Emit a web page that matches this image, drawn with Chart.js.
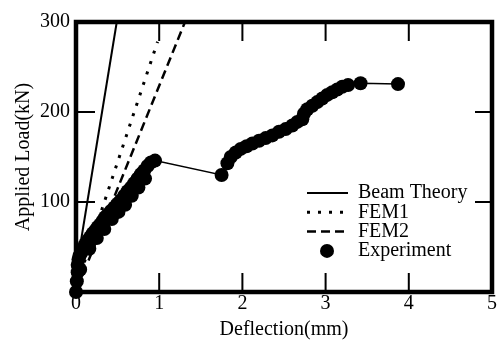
<!DOCTYPE html>
<html lang="en">
<head>
  <meta charset="UTF-8">
  <title>Applied Load vs Deflection</title>
  <script src="https://cdn.jsdelivr.net/npm/chart.js"></script>
  <style>
    body { margin: 0; background: #ffffff; }
    #wrap { width: 499px; height: 345px; }
  </style>
</head>
<body>
  <div id="wrap"><canvas id="chart" width="499" height="345"></canvas></div>

  <script>
    // values (deflection mm, load kN)
    const beamX = [0.03, 0.49];
    const beamY = [40, 300];
    const fem1X = [0.10, 0.98];
    const fem1Y = [33, 278];
    const fem2X = [0.15, 1.31];
    const fem2Y = [35, 300];
    const expX = [0, 0.01, 0.02, 0.02, 0.03, 0.04, 0.06, 0.08, 0.11, 0.14, 0.17, 0.20, 0.23, 0.26,
      0.29, 0.32, 0.35, 0.38, 0.42, 0.46, 0.50, 0.54, 0.58, 0.62, 0.66, 0.70, 0.74, 0.78, 0.82,
      0.86, 0.90, 0.95, 1.75, 1.82, 1.86, 1.92, 1.98, 2.05, 2.12, 2.20, 2.28, 2.36, 2.44, 2.52,
      2.60, 2.66, 2.72, 2.74, 2.78, 2.84, 2.90, 2.96, 3.02, 3.08, 3.14, 3.20, 3.27, 3.42, 3.87];
    const expY = [0, 12, 22, 30, 36, 40, 43, 48, 53, 57, 61, 65, 68, 72,
      75, 79, 83, 86, 90, 94, 98, 102, 107, 112, 116, 121, 126, 131, 135,
      140, 144, 146, 130, 143, 150, 155, 159, 162, 165, 168, 171, 174, 178, 181,
      185, 189, 192, 198, 203, 207, 211, 215, 219, 222, 225, 228, 230, 232, 231];
    // second row of readings under the first part of the curve
    const lowX = [0.05, 0.16, 0.25, 0.34, 0.43, 0.51, 0.59, 0.67, 0.75, 0.83];
    const lowY = [25, 48, 60, 70, 81, 89, 97, 107, 116, 126];
    const legendNames = ["Beam Theory", "FEM1", "FEM2", "Experiment"];
    const xTicks = [0, 1, 2, 3, 4, 5];
    const yTicks = [100, 200, 300];

    const pts = (xs, ys) => xs.map((x, i) => ({ x: x, y: ys[i] }));
    const serif = "'Liberation Serif', 'DejaVu Serif', serif";

    // frame, inward tick marks and legend
    const framePlugin = {
      id: 'frame',
      afterDraw(chart) {
        const ctx = chart.ctx;
        const a = chart.chartArea;
        const xs = chart.scales.x, ys = chart.scales.y;
        ctx.save();
        ctx.strokeStyle = '#000';
        ctx.lineWidth = 4.5;
        ctx.strokeRect(a.left, a.top, a.right - a.left, a.bottom - a.top);
        ctx.lineWidth = 2;
        ctx.beginPath();
        xTicks.slice(1, -1).forEach(v => {
          const px = xs.getPixelForValue(v);
          ctx.moveTo(px, a.bottom); ctx.lineTo(px, a.bottom - 19);
          ctx.moveTo(px, a.top); ctx.lineTo(px, a.top + 19);
        });
        yTicks.slice(0, -1).forEach(v => {
          const py = ys.getPixelForValue(v);
          ctx.moveTo(a.left, py); ctx.lineTo(a.left + 19, py);
          ctx.moveTo(a.right, py); ctx.lineTo(a.right - 17, py);
        });
        ctx.stroke();

        // legend
        const lx = 307, tx = 358;
        let ly = 193;
        ctx.font = '20px ' + serif;
        ctx.textBaseline = 'middle';
        ctx.fillStyle = '#000';
        chart.data.datasets.slice(0, 4).forEach((ds, i) => {
          if (i < 3) {
            ctx.lineWidth = ds.borderWidth;
            ctx.setLineDash(ds.borderDash || []);
            ctx.beginPath();
            ctx.moveTo(lx, ly); ctx.lineTo(lx + 41, ly);
            ctx.stroke();
            ctx.setLineDash([]);
          } else {
            ctx.beginPath();
            ctx.arc(lx + 20, ly, 7, 0, Math.PI * 2);
            ctx.fill();
          }
          ctx.fillText(legendNames[i], tx, ly);
          ly += 19.3;
        });
        ctx.restore();
      }
    };

    new Chart(document.getElementById("chart"), {
      type: 'scatter',
      data: {
        datasets: [
          { label: legendNames[0], data: pts(beamX, beamY), showLine: true,
            borderColor: '#000', borderWidth: 2, pointRadius: 0 },
          { label: legendNames[1], data: pts(fem1X, fem1Y), showLine: true,
            borderColor: '#000', borderWidth: 3, borderDash: [3, 8], pointRadius: 0 },
          { label: legendNames[2], data: pts(fem2X, fem2Y), showLine: true,
            borderColor: '#000', borderWidth: 2.5, borderDash: [9, 5], pointRadius: 0 },
          { label: legendNames[3], data: pts(expX, expY), showLine: true,
            borderColor: '#000', borderWidth: 1.5, backgroundColor: '#000',
            pointRadius: 7, pointBorderWidth: 0 },
          { label: 'band', data: pts(lowX, lowY), showLine: false,
            backgroundColor: '#000', pointRadius: 7, pointBorderWidth: 0 }
        ]
      },
      options: {
        responsive: false,
        animation: false,
        clip: false,
        layout: { padding: { top: 22, right: 7, left: 0, bottom: 0 } },
        plugins: { legend: { display: false }, tooltip: { enabled: false } },
        scales: {
          x: {
            type: 'linear', min: 0, max: 5,
            afterFit(s) { s.height = 53; },
            grid: { display: false, drawTicks: false },
            border: { display: false },
            ticks: { stepSize: 1, color: '#000', padding: 0,
              font: { family: serif, size: 20 } },
            title: { display: true, text: 'Deflection(mm)', color: '#000',
              font: { family: serif, size: 20 }, padding: { top: 0, bottom: 3 } }
          },
          y: {
            type: 'linear', min: 0, max: 300,
            afterFit(s) { s.width = 76; },
            grid: { display: false, drawTicks: false },
            border: { display: false },
            ticks: { stepSize: 100, color: '#000', padding: 6,
              font: { family: serif, size: 20 },
              callback: v => (v === 0 ? '' : v) },
            title: { display: true, text: 'Applied Load(kN)', color: '#000',
              font: { family: serif, size: 20 }, padding: { top: 12, bottom: 0 } }
          }
        }
      },
      plugins: [framePlugin]
    });
  </script>
</body>
</html>
